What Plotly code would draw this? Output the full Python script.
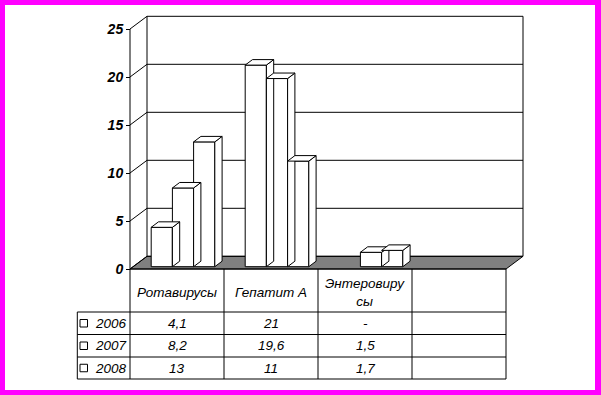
import plotly.graph_objects as go

# ---------------- data ----------------
categories = ["Ротавирусы", "Гепатит А", "Энтеровирусы", ""]
category_labels = ["Ротавирусы", "Гепатит А", "Энтеровиру<br>сы", ""]
years = ["2006", "2007", "2008"]
v2006 = [4.1, 21, None, None]
v2007 = [8.2, 19.6, 1.5, None]
v2008 = [13, 11, 1.7, None]
y_ticks = [0, 5, 10, 15, 20, 25]

series = [v2006, v2007, v2008]

# ---------------- geometry (pixel layout -> data units) ----------------
W, H = 601, 395
AX_PX, CAT_PX = 130.0, 94.0       # front axis x, px per category
ZERO_PX, UNIT_PX = 269.0, 9.6     # value 0 y, px per unit


def xd(px):
    return (px - AX_PX) / CAT_PX


def yd(py):
    return (ZERO_PX - py) / UNIT_PX


DX, DY = 17.0 / CAT_PX, 12.7 / UNIT_PX        # wall depth
BW = 21.2 / CAT_PX                            # bar width
B0 = 2.3 / UNIT_PX                            # bar base (front)
DDX, DDY = 7.3 / CAT_PX, 5.5 / UNIT_PX        # bar depth
NCAT = len(categories)
VMAX = y_ticks[-1]

FONT = "Liberation Sans, Arial, sans-serif"
shapes = []
annotations = []


def line(x0, y0, x1, y1, layer="below", color="black", width=1):
    shapes.append(dict(type="line", xref="x", yref="y", x0=x0, y0=y0, x1=x1, y1=y1,
                       line=dict(color=color, width=width), layer=layer))


# white inner area inside magenta frame
shapes.append(dict(type="rect", xref="paper", yref="paper",
                   x0=5 / W, x1=595 / W, y0=1 - 390 / H, y1=1 - 5 / H,
                   fillcolor="white", line=dict(width=0), layer="below"))

# floor
shapes.append(dict(type="path", xref="x", yref="y",
                   path=f"M 0,0 L {NCAT},0 L {NCAT + DX},{DY} L {DX},{DY} Z",
                   fillcolor="#808080", line=dict(color="black", width=1), layer="below"))

# walls and gridlines
for v in y_ticks:
    line(DX, v + DY, NCAT + DX, v + DY)          # back wall gridline
    line(0, v, DX, v + DY)                        # left wall diagonal
line(DX, DY, DX, VMAX + DY)                       # back wall left edge
line(NCAT + DX, DY, NCAT + DX, VMAX + DY)         # back wall right edge
line(0, 0, 0, VMAX)                               # front axis line

# ---------------- traces ----------------
fig = go.Figure()

# bar front faces
for j, (yr, vals) in enumerate(zip(years, series)):
    xs, ys = [], []
    for i, v in enumerate(vals):
        xs.append(i + (j + 1) * BW + BW / 2)
        ys.append(v)
    fig.add_trace(go.Bar(x=xs, y=ys, base=B0, width=BW, name=yr,
                         marker=dict(color="white", line=dict(color="black", width=1)),
                         showlegend=False, hoverinfo="skip"))

# bar side and top faces
for i in range(NCAT):
    for j, vals in enumerate(series):
        v = vals[i]
        if v is None:
            continue
        xl = i + (j + 1) * BW
        xr = xl + BW
        b, t = B0, B0 + v
        fig.add_trace(go.Scatter(
            x=[xr, xr + DDX, xr + DDX, xr, xr], y=[b, b + DDY, t + DDY, t, b],
            mode="lines", fill="toself", fillcolor="white",
            line=dict(color="black", width=1), showlegend=False, hoverinfo="skip"))
        fig.add_trace(go.Scatter(
            x=[xl, xl + DDX, xr + DDX, xr, xl], y=[t, t + DDY, t + DDY, t, t],
            mode="lines", fill="toself", fillcolor="white",
            line=dict(color="black", width=1), showlegend=False, hoverinfo="skip"))

# ---------------- data table ----------------
row_px = [269.0, 312.0, 334.5, 357.0, 379.0]
leg_left = xd(77.3)
line(0, 0, NCAT, 0, layer="above")
for k, py in enumerate(row_px[1:]):
    line(leg_left, yd(py), NCAT, yd(py), layer="above")
for i in range(NCAT + 1):
    line(i, 0, i, yd(row_px[-1]), layer="above")
line(leg_left, yd(row_px[1]), leg_left, yd(row_px[-1]), layer="above")

tfont = dict(family=FONT, size=13.5, color="black", style="italic")
for i, lab in enumerate(category_labels):
    if lab:
        annotations.append(dict(x=i + 0.5, y=yd((row_px[0] + row_px[1]) / 2 + 1.5), xref="x", yref="y",
                                text=lab, showarrow=False, font=tfont,
                                xanchor="center", yanchor="middle"))


def fmt(v):
    s = f"{v:g}"
    return s.replace(".", ",")


for r, (yr, vals) in enumerate(zip(years, series)):
    yc = yd((row_px[r + 1] + row_px[r + 2]) / 2)
    for i, v in enumerate(vals):
        if v is not None:
            txt = fmt(v)
        elif categories[i]:
            txt = "-"
        else:
            txt = ""
        if txt:
            annotations.append(dict(x=i + 0.5, y=yc, xref="x", yref="y", text=txt,
                                    showarrow=False, font=tfont,
                                    xanchor="center", yanchor="middle"))
    # legend key square and label
    sq = 7.5
    shapes.append(dict(type="rect", xref="x", yref="y",
                       x0=xd(80), x1=xd(80 + sq), y0=yc - sq / 2 / UNIT_PX, y1=yc + sq / 2 / UNIT_PX,
                       fillcolor="white", line=dict(color="black", width=1), layer="above"))
    annotations.append(dict(x=xd(92.5), y=yc, xref="x", yref="y", text=yr,
                            showarrow=False, font=tfont, xanchor="left", yanchor="middle"))

# ---------------- layout ----------------
fig.update_layout(
    width=W, height=H,
    margin=dict(l=0, r=0, t=0, b=0, pad=0),
    paper_bgcolor="#FF00FF",
    plot_bgcolor="rgba(0,0,0,0)",
    barmode="overlay",
    hovermode=False,
    showlegend=False,
    shapes=shapes,
    annotations=annotations,
    xaxis=dict(range=[xd(0), xd(W)], visible=False, fixedrange=True),
    yaxis=dict(range=[yd(H), yd(0)], anchor="free", position=AX_PX / W,
               showgrid=False, zeroline=False, showline=False,
               tickmode="array", tickvals=y_ticks, ticks="outside", ticklen=4,
               tickcolor="black", tickwidth=1,
               tickfont=dict(family=FONT, size=14, color="black", weight="bold", style="italic"),
               fixedrange=True),
)

fig.write_html("out.html", config={"staticPlot": True},
               post_script="document.body.style.margin='0';document.body.style.padding='0';"
                           "document.body.style.overflow='hidden';")
